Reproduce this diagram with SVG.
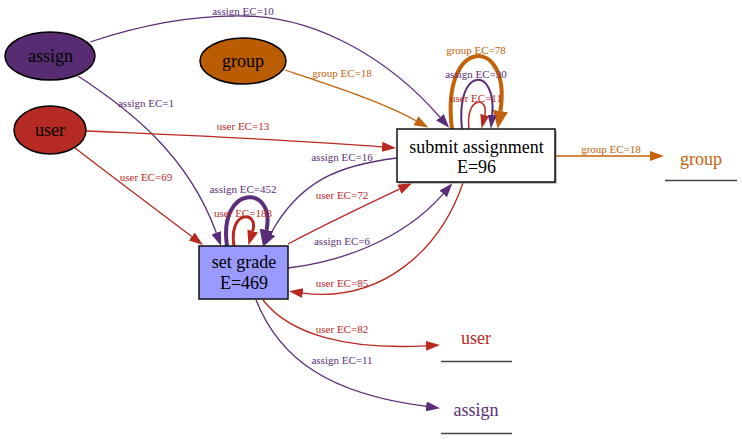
<svg xmlns="http://www.w3.org/2000/svg" width="742" height="439" viewBox="0 0 742 439">
<style>
text{font-family:'Liberation Serif','DejaVu Serif',serif}
.lbl{font-size:11px;text-anchor:middle}
.nt{font-size:18px;text-anchor:middle;fill:#000}
.p{stroke:#5a2d79;fill:none}
.r{stroke:#b8291f;fill:none}
.o{stroke:#c2620a;fill:none}
.tp{fill:#5a2d79}.tr{fill:#b8291f}.to{fill:#c2620a}
.ul{stroke:#444;stroke-width:1.5}
</style>
<defs>
<marker id="ap" viewBox="0 0 10 7" preserveAspectRatio="none" refX="0" refY="3.5" markerWidth="14" markerHeight="10" markerUnits="userSpaceOnUse" orient="auto"><path d="M0,0L10,3.5L0,7z" fill="#5a2d79"/></marker>
<marker id="ar" viewBox="0 0 10 7" preserveAspectRatio="none" refX="0" refY="3.5" markerWidth="14" markerHeight="10" markerUnits="userSpaceOnUse" orient="auto"><path d="M0,0L10,3.5L0,7z" fill="#b8291f"/></marker>
<marker id="ao" viewBox="0 0 10 7" preserveAspectRatio="none" refX="0" refY="3.5" markerWidth="14" markerHeight="10" markerUnits="userSpaceOnUse" orient="auto"><path d="M0,0L10,3.5L0,7z" fill="#c2620a"/></marker>
<marker id="arS" viewBox="0 0 10 7" preserveAspectRatio="none" refX="0" refY="3.5" markerWidth="14" markerHeight="9" markerUnits="userSpaceOnUse" orient="auto"><path d="M0,0L10,3.5L0,7z" fill="#b8291f"/></marker>
<marker id="apS" viewBox="0 0 10 7" preserveAspectRatio="none" refX="0" refY="3.5" markerWidth="14" markerHeight="9" markerUnits="userSpaceOnUse" orient="auto"><path d="M0,0L10,3.5L0,7z" fill="#5a2d79"/></marker>
<marker id="apL" viewBox="0 0 10 7" preserveAspectRatio="none" refX="0" refY="3.5" markerWidth="17" markerHeight="14" markerUnits="userSpaceOnUse" orient="auto"><path d="M0,0L10,3.5L0,7z" fill="#5a2d79"/></marker>
<marker id="arM" viewBox="0 0 10 7" preserveAspectRatio="none" refX="0" refY="3.5" markerWidth="15" markerHeight="11" markerUnits="userSpaceOnUse" orient="auto"><path d="M0,0L10,3.5L0,7z" fill="#b8291f"/></marker>
<marker id="aoL" viewBox="0 0 10 7" preserveAspectRatio="none" refX="0" refY="3.5" markerWidth="18" markerHeight="15" markerUnits="userSpaceOnUse" orient="auto"><path d="M0,0L10,3.5L0,7z" fill="#c2620a"/></marker>
</defs>

<g id="connectors">
<path class="p" stroke-width="1.3" marker-end="url(#ap)" d="M90,42 C150,22 200,15 245,16 C320,17 392,62 440,117.3"/>
<text class="lbl tp" x="243" y="15">assign EC=10</text>
<path class="p" stroke-width="1.3" marker-end="url(#ap)" d="M78,76 C130,110 188,155 216.3,232.8"/>
<text class="lbl tp" x="146" y="107">assign EC=1</text>
<path class="o" stroke-width="1.3" marker-end="url(#ao)" d="M285,70 C330,85 383,102 416,120.7"/>
<text class="lbl to" x="342" y="77">group EC=18</text>
<path class="r" stroke-width="1.3" marker-end="url(#ar)" d="M86,131 C200,136 300,140 382,146.8"/>
<text class="lbl tr" x="243" y="130">user EC=13</text>
<path class="r" stroke-width="1.3" marker-end="url(#ar)" d="M75,148 C110,175 158,211 191.8,236.5"/>
<text class="lbl tr" x="146" y="181">user EC=69</text>
<path class="p" stroke-width="1.3" marker-end="url(#ap)" d="M397,158 C340,165 300,180 270.7,233.7"/>
<text class="lbl tp" x="342" y="161">assign EC=16</text>
<path class="r" stroke-width="1.3" marker-end="url(#ar)" d="M288,244 C330,222 368,204 399.4,189.2"/>
<text class="lbl tr" x="342" y="199">user EC=72</text>
<path class="p" stroke-width="1.3" marker-end="url(#ap)" d="M288,268 C340,262 403,240 443.2,193.9"/>
<text class="lbl tp" x="342" y="245">assign EC=6</text>
<path class="r" stroke-width="1.3" marker-end="url(#ar)" d="M463,183 C440,250 382,303 302.8,293.1"/>
<text class="lbl tr" x="342" y="287">user EC=85</text>
<path class="p" stroke-width="4" marker-end="url(#apL)" d="M227,246 C218,184 276,184 266.5,230"/>
<text class="lbl tp" x="243" y="193">assign EC=452</text>
<path class="r" stroke-width="3" marker-end="url(#arM)" d="M234,246 C228,210 259,210 252.7,231"/>
<text class="lbl tr" x="243" y="217">user EC=183</text>
<path class="o" stroke-width="4" marker-end="url(#aoL)" d="M452,129 C440,35 512,35 500.4,111"/>
<text class="lbl to" x="476" y="54">group EC=78</text>
<path class="p" stroke-width="2" marker-end="url(#apS)" d="M462,129 C455,66 497,66 492.2,115"/>
<text class="lbl tp" x="476" y="78">assign EC=30</text>
<path class="r" stroke-width="1.5" marker-end="url(#arS)" d="M469,129 C465,96 489,96 484.7,115"/>
<text class="lbl tr" x="476" y="102">user EC=11</text>
<path class="o" stroke-width="1.3" marker-end="url(#ao)" d="M556,156 L650,156"/>
<text class="lbl to" x="611" y="153">group EC=18</text>
<path class="r" stroke-width="1.3" marker-end="url(#ar)" d="M263,300 C290,335 348,350 426,345.8"/>
<text class="lbl tr" x="342" y="333">user EC=82</text>
<path class="p" stroke-width="1.3" marker-end="url(#ap)" d="M256,300 C280,360 330,394 426.1,406.4"/>
<text class="lbl tp" x="342" y="364">assign EC=11</text>
</g>

<g id="node-assign">
<ellipse cx="50" cy="56" rx="45" ry="24" fill="#582c72" stroke="#000" stroke-width="1.5"/>
<text class="nt" x="50.5" y="62">assign</text>
</g>
<g id="node-group">
<ellipse cx="243" cy="61" rx="43" ry="23" fill="#ba5c00" stroke="#000" stroke-width="1.5"/>
<text class="nt" x="243" y="67">group</text>
</g>
<g id="node-user">
<ellipse cx="50" cy="130" rx="36" ry="24" fill="#b52a22" stroke="#000" stroke-width="1.5"/>
<text class="nt" x="50" y="136">user</text>
</g>
<g id="node-submit">
<rect x="398.5" y="130.5" width="158" height="53" fill="#888"/>
<rect x="397" y="129" width="158" height="53" fill="#fff" stroke="#111" stroke-width="1.5"/>
<text class="nt" x="476.5" y="153">submit assignment</text>
<text class="nt" x="476.5" y="173">E=96</text>
</g>
<g id="node-setgrade">
<rect x="199" y="246" width="89" height="53" fill="#9999ff" stroke="#111" stroke-width="1.5"/>
<text class="nt" x="244" y="268">set grade</text>
<text class="nt" x="244" y="289">E=469</text>
</g>
<g id="sink-group">
<text class="nt to" x="701" y="165">group</text>
<line class="ul" x1="665" y1="180.5" x2="737" y2="180.5"/>
</g>
<g id="sink-user">
<text class="nt tr" x="476" y="344">user</text>
<line class="ul" x1="441" y1="361.5" x2="512" y2="361.5"/>
</g>
<g id="sink-assign">
<text class="nt tp" x="476" y="416">assign</text>
<line class="ul" x1="441" y1="433.5" x2="512" y2="433.5"/>
</g>
</svg>
